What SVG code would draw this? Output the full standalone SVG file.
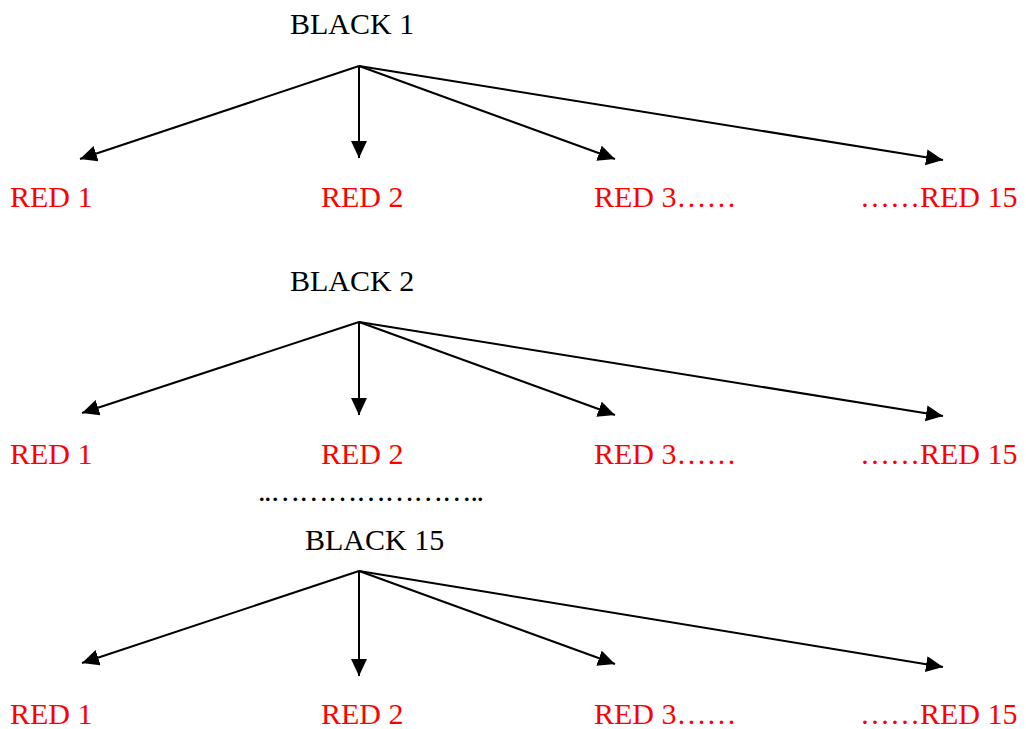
<svg xmlns="http://www.w3.org/2000/svg" width="1026" height="729" viewBox="0 0 1026 729">
  <style>
    text { font-family: "Liberation Serif", "Times New Roman", serif; font-size: 30px; }
    .black { fill: #000000; }
    .red { fill: #ff0000; }
    .edge { stroke: #000000; stroke-width: 2; fill: none; marker-end: url(#arrow); }
  </style>
  <defs>
    <marker id="arrow" markerUnits="userSpaceOnUse" markerWidth="19" markerHeight="18" refX="17" refY="8" orient="auto">
      <path d="M0,0 L17,8 L0,16 z" fill="#000000"/>
    </marker>
  </defs>
  <rect width="1026" height="729" fill="#ffffff"/>

  <!-- connectors: each black parent fans out to its red children -->
  <g id="connectors">
    <line class="edge" x1="359" y1="66" x2="80" y2="159"/>
    <line class="edge" x1="359" y1="66" x2="359" y2="158"/>
    <line class="edge" x1="359" y1="66" x2="615" y2="159"/>
    <line class="edge" x1="359" y1="66" x2="943" y2="160"/>

    <line class="edge" x1="359" y1="322" x2="82" y2="413"/>
    <line class="edge" x1="359" y1="322" x2="359" y2="415"/>
    <line class="edge" x1="359" y1="322" x2="615" y2="415"/>
    <line class="edge" x1="359" y1="322" x2="943" y2="416"/>

    <line class="edge" x1="359" y1="571" x2="82" y2="663"/>
    <line class="edge" x1="359" y1="571" x2="359" y2="676"/>
    <line class="edge" x1="359" y1="571" x2="615" y2="664"/>
    <line class="edge" x1="359" y1="571" x2="943" y2="667"/>
  </g>

  <!-- group 1 -->
  <g id="black1"><text class="black" x="290" y="34">BLACK 1</text></g>
  <g id="red1-1"><text class="red" x="10" y="207">RED 1</text></g>
  <g id="red1-2"><text class="red" x="321" y="207">RED 2</text></g>
  <g id="red1-3"><text class="red" x="594" y="207">RED 3……</text></g>
  <g id="red1-15"><text class="red" x="860" y="207">……RED 15</text></g>

  <!-- group 2 -->
  <g id="black2"><text class="black" x="290" y="291">BLACK 2</text></g>
  <g id="red2-1"><text class="red" x="10" y="464">RED 1</text></g>
  <g id="red2-2"><text class="red" x="321" y="464">RED 2</text></g>
  <g id="red2-3"><text class="red" x="594" y="464">RED 3……</text></g>
  <g id="red2-15"><text class="red" x="860" y="464">……RED 15</text></g>

  <!-- continuation dots -->
  <g id="ellipsis"><text class="black" x="258" y="501" textLength="226" lengthAdjust="spacing">..…………………..</text></g>

  <!-- group 15 -->
  <g id="black15"><text class="black" x="305" y="550">BLACK 15</text></g>
  <g id="red15-1"><text class="red" x="10" y="724">RED 1</text></g>
  <g id="red15-2"><text class="red" x="321" y="724">RED 2</text></g>
  <g id="red15-3"><text class="red" x="594" y="724">RED 3……</text></g>
  <g id="red15-15"><text class="red" x="860" y="724">……RED 15</text></g>
</svg>
